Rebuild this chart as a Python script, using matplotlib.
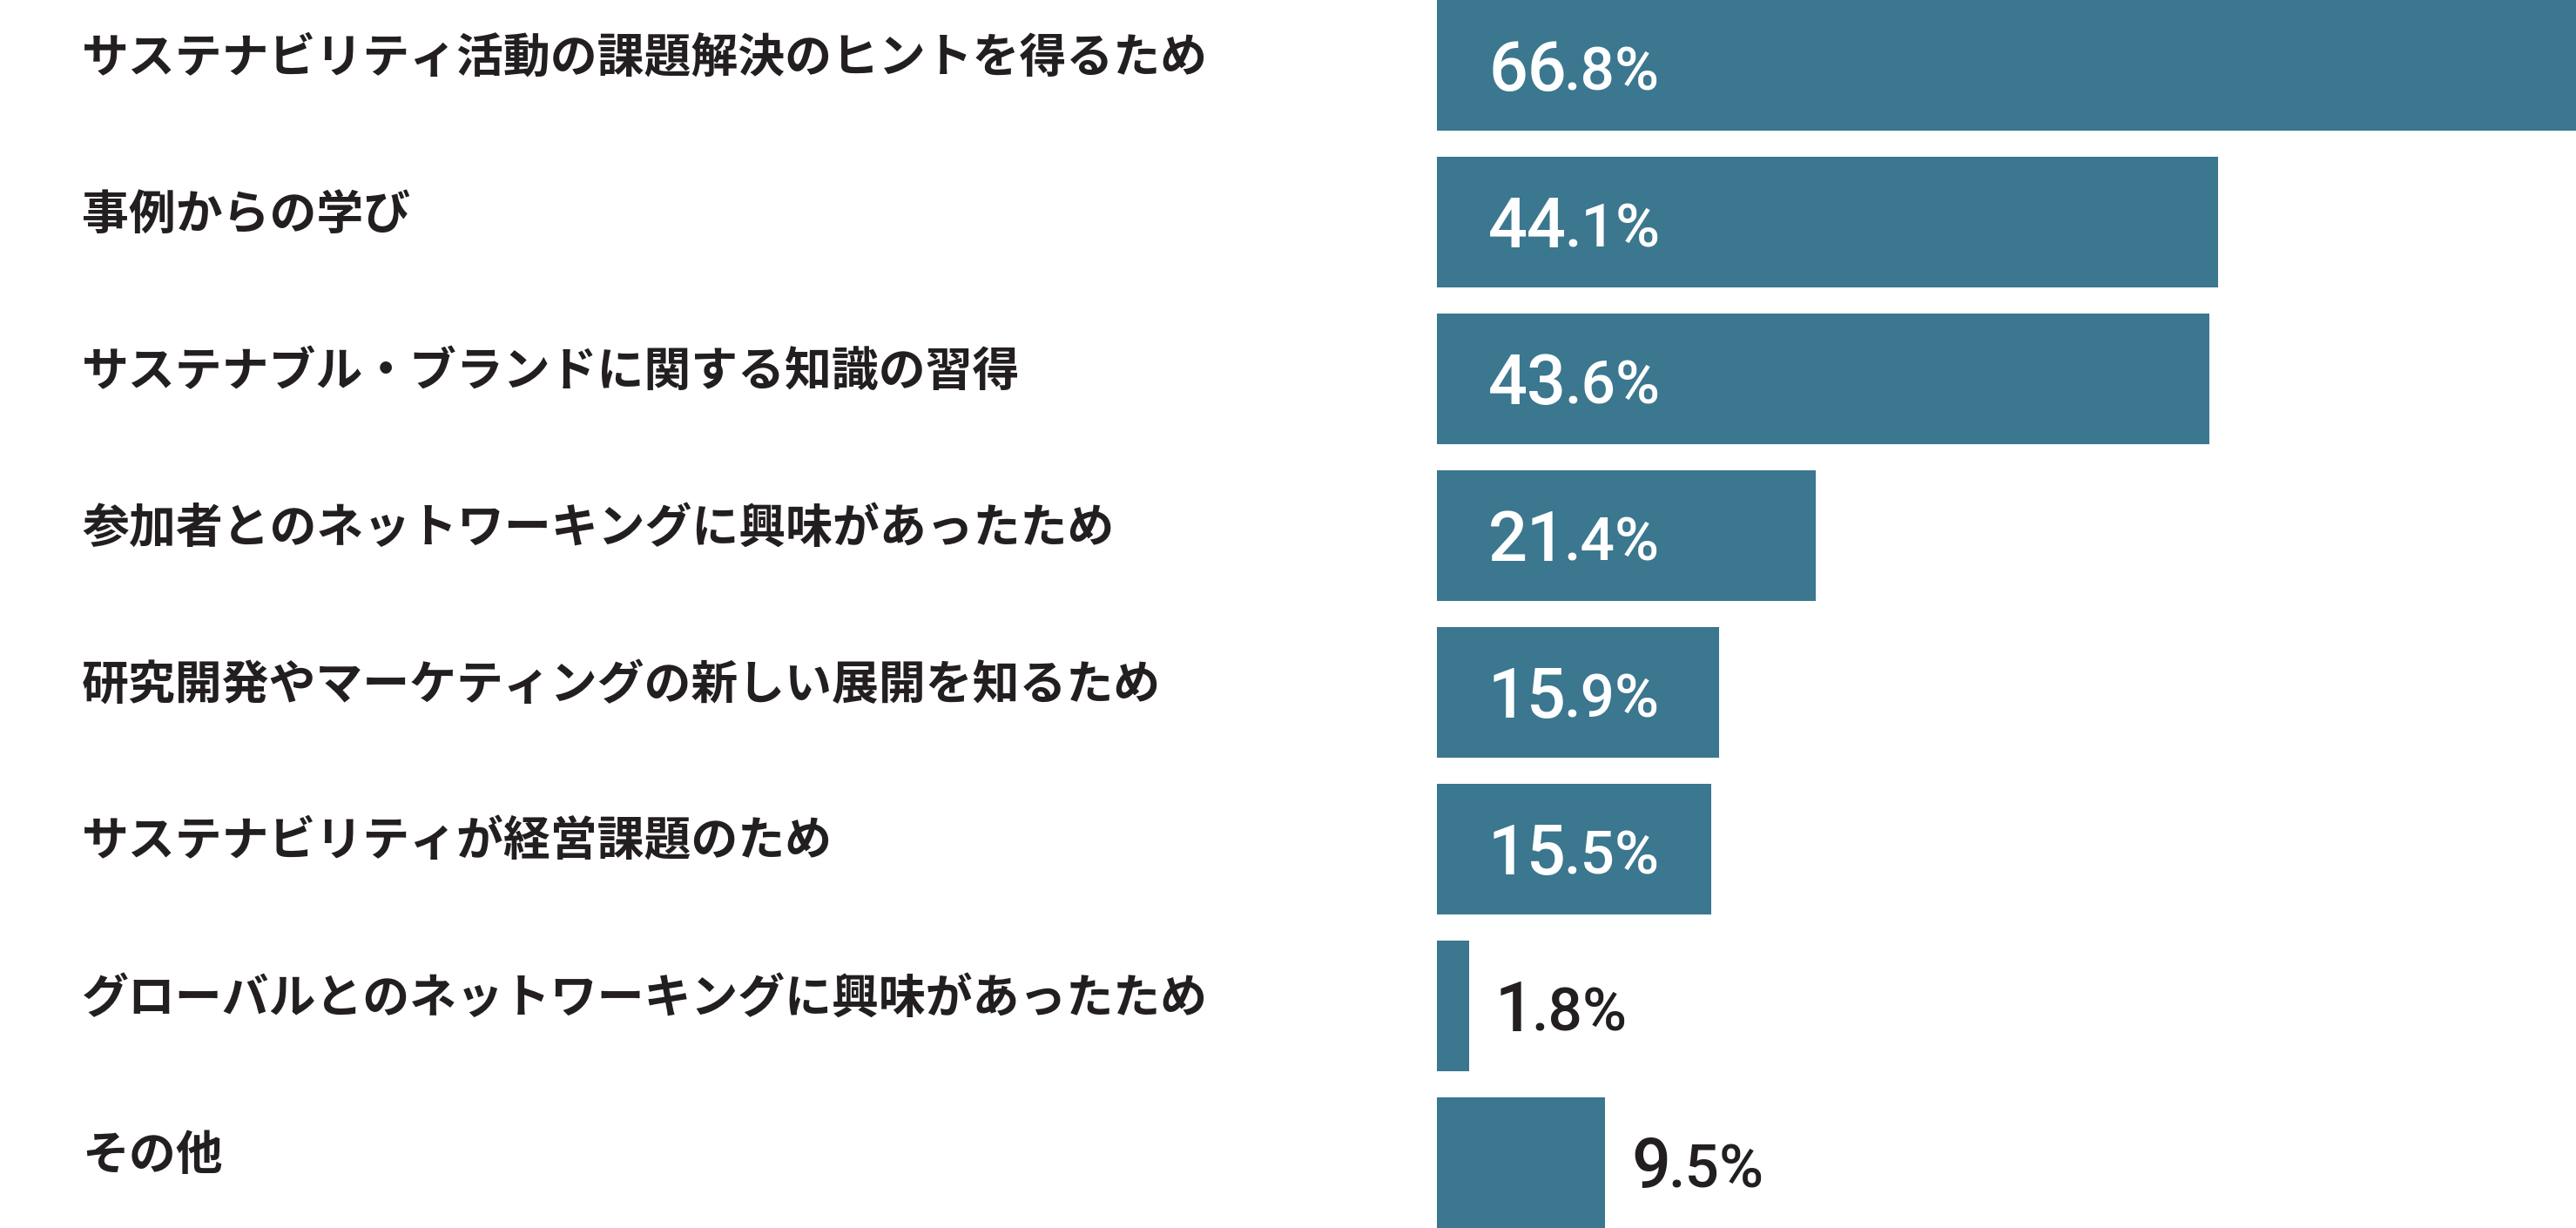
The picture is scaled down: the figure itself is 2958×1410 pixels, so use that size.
import matplotlib
matplotlib.use("Agg")
import matplotlib.pyplot as plt
import matplotlib.transforms as mtransforms

categories = [
    "サステナビリティ活動の課題解決のヒントを得るため",
    "事例からの学び",
    "サステナブル・ブランドに関する知識の習得",
    "参加者とのネットワーキングに興味があったため",
    "研究開発やマーケティングの新しい展開を知るため",
    "サステナビリティが経営課題のため",
    "グローバルとのネットワーキングに興味があったため",
    "その他",
]
values = [66.8, 44.1, 43.6, 21.4, 15.9, 15.5, 1.8, 9.5]
inside = [True, True, True, True, True, True, False, False]

BAR = "#3b778f"
DARK = "#231f20"
W, H, DPI = 2958, 1410, 100
PX_PER_UNIT = 20.35
LEFT_PX = 1650

fig = plt.figure(figsize=(W / DPI, H / DPI), dpi=DPI)
fig.patch.set_facecolor("white")
ax = fig.add_axes([LEFT_PX / W, 0, 1 - LEFT_PX / W, 1])
ax.set_xlim(0, (W - LEFT_PX) / PX_PER_UNIT)
ax.set_ylim(len(categories) - 1 + (1410 - 75 - 180 * 7) / 180, -75 / 180)
ax.axis("off")

ys = list(range(len(categories)))
ax.barh(ys, values, height=150 / 180, color=BAR, left=0)

lab_tr = mtransforms.blended_transform_factory(fig.transFigure, ax.transData)
for y, c in zip(ys, categories):
    fig.text(94 / W, y - 8 / 180, c, transform=lab_tr, ha="left", va="center",
             fontsize=38.8, family=["Noto Sans CJK JP", "DejaVu Sans"],
             weight="bold", color=DARK)

fig.canvas.draw()
renderer = fig.canvas.get_renderer()
num_font = ["Roboto", "Liberation Sans"]
for y, v, ins in zip(ys, values, inside):
    s = f"{v:.1f}%"
    ip, rest = s.split(".")
    rest = "." + rest
    if ins:
        x0 = 59 / PX_PER_UNIT
        col = "white"
    else:
        x0 = v + 30 / PX_PER_UNIT
        col = DARK
    t1 = ax.text(x0, y + 29 / 180, ip, ha="left", va="baseline", fontsize=57,
                 family=num_font, weight="medium", color=col)
    bb = t1.get_window_extent(renderer=renderer)
    xd = ax.transData.inverted().transform((bb.x1 - 3, 0))[0]
    ax.text(xd, y + 29 / 180, rest, ha="left", va="baseline", fontsize=50,
            family=num_font, weight="medium", color=col)

fig.savefig("out.png", dpi=DPI, facecolor="white")
